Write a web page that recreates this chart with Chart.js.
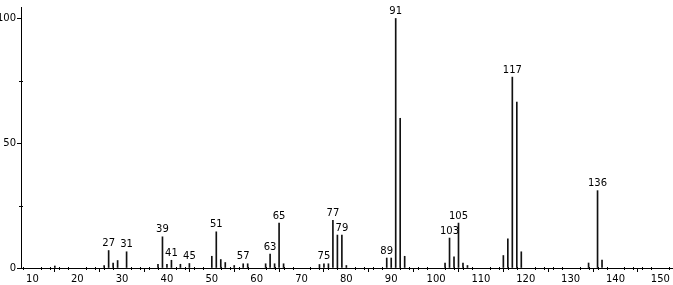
<!DOCTYPE html>
<html>
<head>
<meta charset="utf-8">
<script src="https://cdn.jsdelivr.net/npm/chart.js@4/dist/chart.umd.min.js"></script>
<style>
  html, body { margin: 0; padding: 0; background: #fff; }
  #wrap { width: 673px; height: 285px; position: relative; }
</style>
</head>
<body>
<div id="wrap"><canvas id="ms"></canvas></div>
<script>
'use strict';

// m/z values and relative intensities (%)
const mz = [15, 26, 27, 28, 29, 31, 38, 39, 40, 41, 43, 45, 50, 51, 52, 53, 55, 57, 58,
  62, 63, 64, 65, 66, 74, 75, 76, 77, 78, 79, 80, 89, 90, 91, 92, 93,
  102, 103, 104, 105, 106, 107, 115, 116, 117, 118, 119, 134, 136, 137];
const intensity = [0.8, 1, 7, 2, 3, 6.5, 1.5, 12.5, 1.5, 3.1, 1.5, 1.8, 4.7, 14.5, 3.4, 2.2, 1, 1.7, 1.7,
  1.7, 5.6, 1.7, 18, 1.7, 1.4, 1.7, 1.7, 19.1, 13.2, 13.2, 1, 4, 4, 100, 60, 4.7,
  2, 12, 4.5, 18, 2, 1, 5, 11.7, 76.5, 66.5, 6.5, 2, 31, 3.2];
// peaks that carry a label
const labelled = [27, 31, 39, 41, 45, 51, 57, 63, 65, 75, 77, 79, 89, 91, 103, 105, 117, 136];
const xTicks = [10, 20, 30, 40, 50, 60, 70, 80, 90, 100, 110, 120, 130, 140, 150];
const yTicks = [0, 25, 50, 75, 100];

const font = '"DejaVu Sans", sans-serif';

var points = mz.map((m, i) => ({x: m, y: intensity[i]}));

// peak labels + minor ticks on both axes
var peakLabels = {
  id: 'peakLabels',
  afterDatasetsDraw(chart) {
    const ctx = chart.ctx, xs = chart.scales.x, ys = chart.scales.y;
    ctx.save();
    ctx.strokeStyle = '#000';
    ctx.lineWidth = 1;
    for (let v = 8; v <= 152; v += 2) {
      if (v % 10 === 0) continue;
      const px = Math.round(xs.getPixelForValue(v)) + 0.5;
      ctx.beginPath();
      ctx.moveTo(px, ys.bottom - 1);
      ctx.lineTo(px, ys.bottom + 2);
      ctx.stroke();
    }
    for (const v of [25, 75]) {
      const py = Math.round(ys.getPixelForValue(v)) + 0.5;
      ctx.beginPath();
      ctx.moveTo(xs.left - 2, py);
      ctx.lineTo(xs.left + 2, py);
      ctx.stroke();
    }
    ctx.fillStyle = '#000';
    ctx.font = '10px ' + font;
    ctx.textAlign = 'center';
    ctx.textBaseline = 'bottom';
    for (const m of labelled) {
      const i = mz.indexOf(m);
      ctx.fillText(String(m), xs.getPixelForValue(m), ys.getPixelForValue(intensity[i]) - 2);
    }
    ctx.restore();
  }
};

var config = {
  type: 'bar',
  data: {
    datasets: [{
      data: points,
      backgroundColor: '#111',
      barThickness: 1,
      grouped: false
    }]
  },
  options: {
    responsive: true,
    maintainAspectRatio: false,
    animation: false,
    layout: {padding: {top: 1, right: 1, left: 0, bottom: 0}},
    plugins: {legend: {display: false}, tooltip: {enabled: false}},
    scales: {
      x: {
        type: 'linear',
        min: 7.46,
        max: 152.6,
        offset: false,
        afterBuildTicks: (s) => { s.ticks = xTicks.map(v => ({value: v})); },
        afterFit: (s) => { s.height = 17; },
        grid: {drawOnChartArea: false, drawTicks: true, tickLength: 4, color: '#000'},
        border: {color: '#000', width: 1},
        ticks: {color: '#000', font: {family: font, size: 10}, padding: 1, maxRotation: 0, autoSkip: false}
      },
      y: {
        min: 0,
        max: 104.6,
        afterBuildTicks: (s) => { s.ticks = yTicks.map(v => ({value: v})); },
        afterFit: (s) => { s.width = 21; },
        grid: {
          drawOnChartArea: false, drawTicks: true, tickLength: 4,
          color: (c) => (c.tick && c.tick.value % 50 === 0 ? '#000' : 'rgba(0,0,0,0)')
        },
        border: {color: '#000', width: 1},
        ticks: {
          color: '#000', font: {family: font, size: 10}, padding: 1,
          callback: (v) => (v % 50 === 0 ? String(v) : '')
        }
      }
    }
  },
  plugins: [peakLabels]
};

window.onload = function() {
  var ctx = document.getElementById('ms').getContext('2d');
  window.msChart = new Chart(ctx, config);
};
</script>
</body>
</html>
